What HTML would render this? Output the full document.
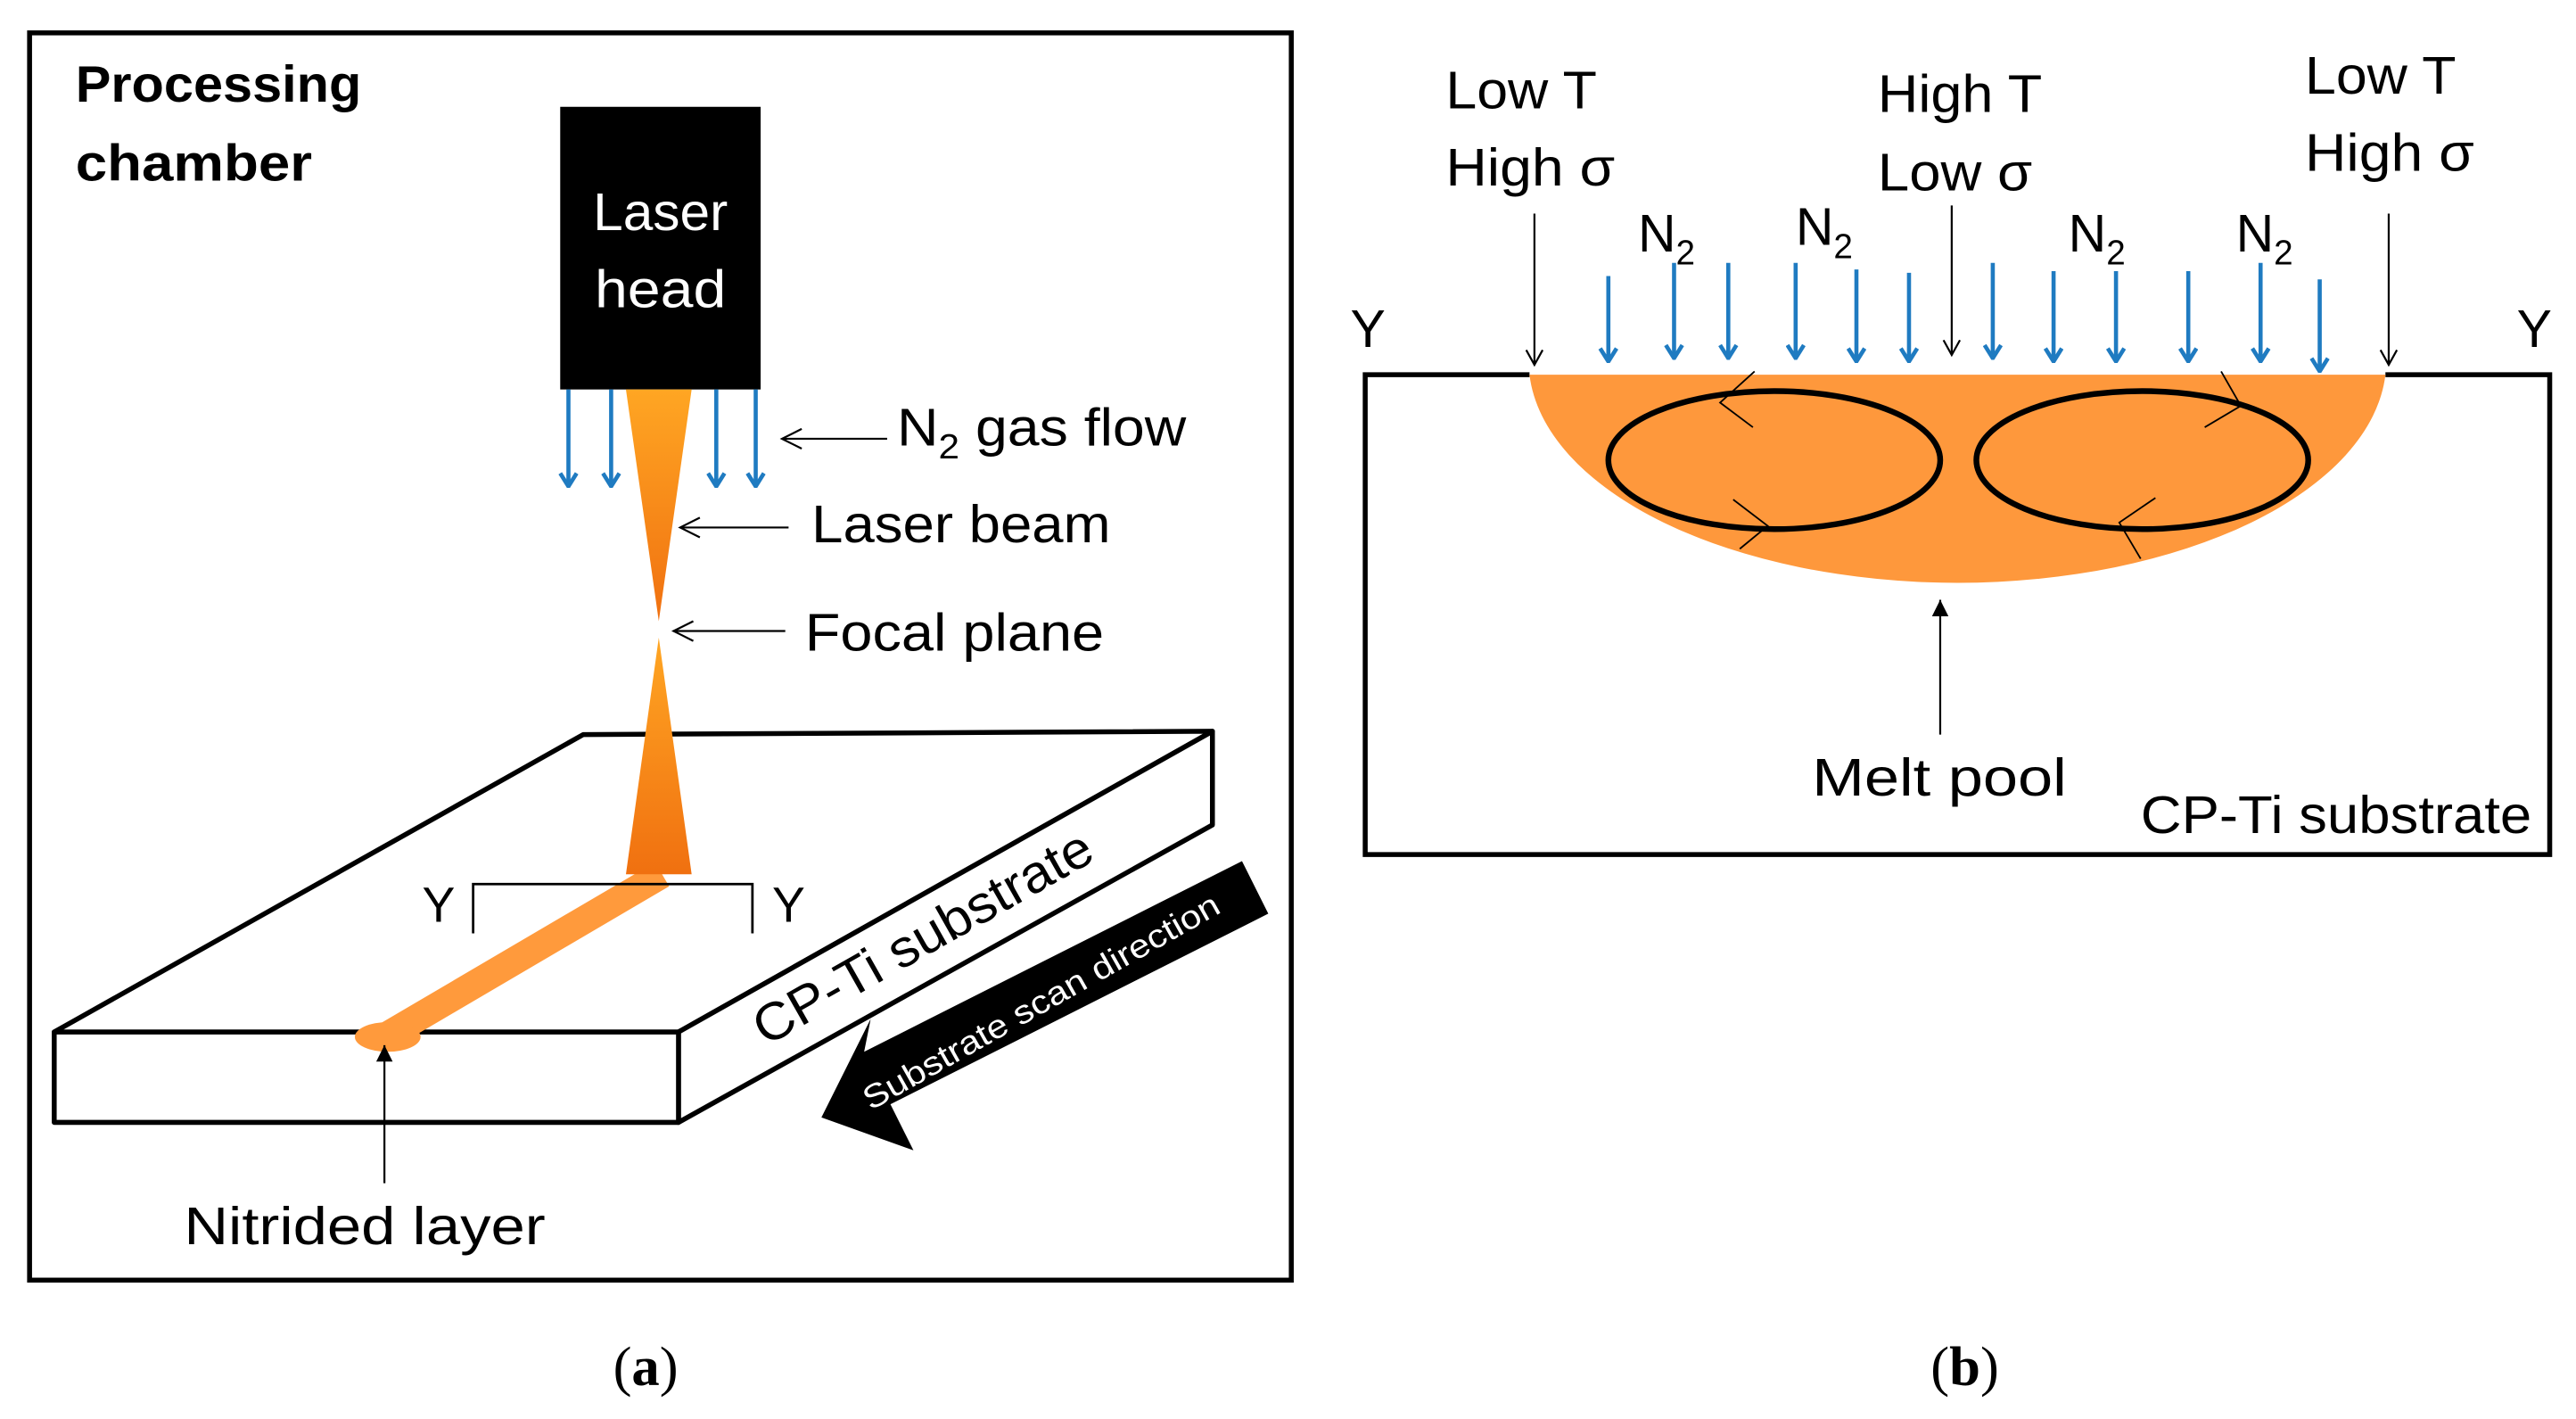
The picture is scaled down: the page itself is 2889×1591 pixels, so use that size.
<!DOCTYPE html>
<html><head><style>html,body{margin:0;padding:0;background:#fff}svg{display:block}</style></head><body>
<svg width="2889" height="1591" viewBox="0 0 1568 863.5" preserveAspectRatio="none" xmlns="http://www.w3.org/2000/svg" font-family="Liberation Sans, sans-serif">
<defs>
<marker id="bl" markerWidth="12" markerHeight="12" refX="11" refY="6" orient="auto" markerUnits="userSpaceOnUse" viewBox="0 0 12 12"><path d="M3,1 L11,6 L3,11" fill="none" stroke="#1f7bc1" stroke-width="2.5"/></marker>
<marker id="ok" markerWidth="12" markerHeight="12" refX="11" refY="6" orient="auto" markerUnits="userSpaceOnUse" viewBox="0 0 12 12"><path d="M2,1 L11,6 L2,11" fill="none" stroke="#000" stroke-width="1.2"/></marker>
<marker id="solid" markerWidth="12" markerHeight="12" refX="11" refY="6" orient="auto" markerUnits="userSpaceOnUse" viewBox="0 0 12 12"><path d="M1,1 L11,6 L1,11 Z" fill="#000"/></marker>
<linearGradient id="beam" x1="0" y1="0" x2="0" y2="1"><stop offset="0" stop-color="#ffa623"/><stop offset="1" stop-color="#f07010"/></linearGradient>
</defs>
<!-- panel a -->
<rect x="18" y="20" width="768" height="759" fill="none" stroke="#000" stroke-width="3"/>
<g lengthAdjust="spacingAndGlyphs">
<text x="46" y="62" font-size="31" font-weight="bold" textLength="174" lengthAdjust="spacingAndGlyphs">Processing</text>
<text x="46" y="110" font-size="31" font-weight="bold" textLength="144" lengthAdjust="spacingAndGlyphs">chamber</text>
</g>
<rect x="341" y="65" width="122" height="172" fill="#000"/>
<text x="402" y="140" font-size="32" fill="#fff" text-anchor="middle" textLength="82" lengthAdjust="spacingAndGlyphs">Laser</text>
<text x="402" y="187" font-size="32" fill="#fff" text-anchor="middle" textLength="80" lengthAdjust="spacingAndGlyphs">head</text>
<g stroke="#1f7bc1" stroke-width="2.5" marker-end="url(#bl)">
<line x1="346" y1="237" x2="346" y2="296"/><line x1="372" y1="237" x2="372" y2="296"/>
<line x1="436" y1="237" x2="436" y2="296"/><line x1="460" y1="237" x2="460" y2="296"/>
</g>
<polygon points="381,237 421,237 401,378" fill="url(#beam)"/>
<g stroke="#000" stroke-width="1.2" fill="none">
<line x1="540" y1="267" x2="476" y2="267"/><path d="M488,261 L476,267 L488,273"/>
<line x1="480" y1="321" x2="414" y2="321"/><path d="M426,315 L414,321 L426,327"/>
<line x1="478" y1="384" x2="410" y2="384"/><path d="M422,378 L410,384 L422,390"/>
</g>
<text x="546" y="271" font-size="32" textLength="176" lengthAdjust="spacingAndGlyphs">N<tspan font-size="21" dy="8">2</tspan><tspan dy="-8"> gas flow</tspan></text>
<text x="494" y="330" font-size="32" textLength="182" lengthAdjust="spacingAndGlyphs">Laser beam</text>
<text x="490" y="396" font-size="32" textLength="182" lengthAdjust="spacingAndGlyphs">Focal plane</text>
<!-- slab -->
<g stroke="#000" stroke-width="3" fill="#fff" stroke-linejoin="round">
<polygon points="33,628 355,447 738,445 413,628"/>
<polygon points="413,628 738,445 738,502 413,683"/>
<rect x="33" y="628" width="380" height="55"/>
</g>
<line x1="403" y1="532" x2="236" y2="630" stroke="#ff9a3c" stroke-width="17"/>
<ellipse cx="236" cy="631" rx="20" ry="9" fill="#ff9a3c"/>
<polygon points="401,388 381,532 421,532" fill="url(#beam)"/>
<path d="M288,568 V538 H458 V568" fill="none" stroke="#000" stroke-width="1.5"/>
<text x="257" y="561" font-size="30">Y</text>
<text x="470" y="561" font-size="30">Y</text>
<text transform="translate(466,637) rotate(-29.5)" font-size="32" textLength="232" lengthAdjust="spacingAndGlyphs">CP-Ti substrate</text>
<polygon points="500,680 530,620 526,640 756,524 772,556 542,672 556,700" fill="#000"/>
<text transform="translate(530,676) rotate(-29.5)" font-size="20" fill="#fff" textLength="246" lengthAdjust="spacingAndGlyphs">Substrate scan direction</text>
<line x1="234" y1="720" x2="234" y2="636" stroke="#000" stroke-width="1.2" marker-end="url(#solid)"/>
<text x="112" y="757" font-size="32" textLength="220" lengthAdjust="spacingAndGlyphs">Nitrided layer</text>
<text x="393" y="843" font-size="34" font-family="Liberation Serif, serif" text-anchor="middle">(<tspan font-weight="bold">a</tspan>)</text>
<!-- panel b -->
<path d="M931,228 H831 V520 H1552 V228 H1452" fill="none" stroke="#000" stroke-width="3"/>
<path d="M931,228 H1452 A261,135 0 0 1 931,228 Z" fill="#fe983c"/>
<ellipse cx="1080" cy="280" rx="101" ry="42" fill="none" stroke="#000" stroke-width="3.5"/>
<ellipse cx="1304" cy="280" rx="101" ry="42" fill="none" stroke="#000" stroke-width="3.5"/>
<g stroke="#000" stroke-width="1" fill="none">
<path d="M1068,226 L1047,245 L1067,260"/>
<path d="M1055,304 L1076,320 L1059,334"/>
<path d="M1352,226 L1364,247 L1342,260"/>
<path d="M1312,303 L1290,318 L1303,340"/>
</g>
<g stroke="#1f7bc1" stroke-width="2.5" marker-end="url(#bl)">
<line x1="979" y1="168" x2="979" y2="220"/><line x1="1019" y1="160" x2="1019" y2="218"/>
<line x1="1052" y1="160" x2="1052" y2="218"/><line x1="1093" y1="160" x2="1093" y2="218"/>
<line x1="1130" y1="164" x2="1130" y2="220"/><line x1="1162" y1="166" x2="1162" y2="220"/>
<line x1="1213" y1="160" x2="1213" y2="218"/><line x1="1250" y1="165" x2="1250" y2="220"/>
<line x1="1288" y1="165" x2="1288" y2="220"/><line x1="1332" y1="165" x2="1332" y2="220"/>
<line x1="1376" y1="160" x2="1376" y2="220"/><line x1="1412" y1="170" x2="1412" y2="226"/>
</g>
<g stroke="#000" stroke-width="1.2" marker-end="url(#ok)">
<line x1="934" y1="130" x2="934" y2="222"/>
<line x1="1188" y1="125" x2="1188" y2="216"/>
<line x1="1454" y1="130" x2="1454" y2="222"/>
</g>
<g font-size="32">
<text x="880" y="66" textLength="92" lengthAdjust="spacingAndGlyphs">Low T</text>
<text x="880" y="113" textLength="103" lengthAdjust="spacingAndGlyphs">High σ</text>
<text x="1143" y="68" textLength="100" lengthAdjust="spacingAndGlyphs">High T</text>
<text x="1143" y="116" textLength="94" lengthAdjust="spacingAndGlyphs">Low σ</text>
<text x="1403" y="57" textLength="92" lengthAdjust="spacingAndGlyphs">Low T</text>
<text x="1403" y="104" textLength="103" lengthAdjust="spacingAndGlyphs">High σ</text>
<text x="997" y="153">N<tspan font-size="21" dy="8">2</tspan></text>
<text x="1093" y="149">N<tspan font-size="21" dy="8">2</tspan></text>
<text x="1259" y="153">N<tspan font-size="21" dy="8">2</tspan></text>
<text x="1361" y="153">N<tspan font-size="21" dy="8">2</tspan></text>
<text x="822" y="211">Y</text>
<text x="1532" y="211">Y</text>
<text x="1103" y="484" textLength="155" lengthAdjust="spacingAndGlyphs">Melt pool</text>
<text x="1303" y="507" textLength="238" lengthAdjust="spacingAndGlyphs">CP-Ti substrate</text>
</g>
<line x1="1181" y1="447" x2="1181" y2="365" stroke="#000" stroke-width="1.2" marker-end="url(#solid)"/>
<text x="1196" y="843" font-size="34" font-family="Liberation Serif, serif" text-anchor="middle">(<tspan font-weight="bold">b</tspan>)</text>
</svg>
</body></html>
